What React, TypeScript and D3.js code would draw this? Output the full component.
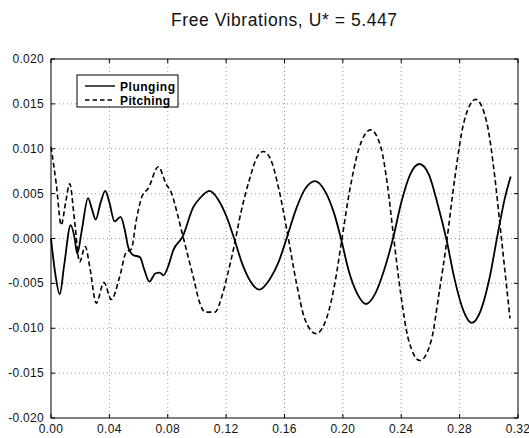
import React from "react";
import * as d3 from "d3";

const title = "Free Vibrations, U* = 5.447";
const xTicks = [0, 0.04, 0.08, 0.12, 0.16, 0.2, 0.24, 0.28, 0.32];
const xTickLabels = ["0.00", "0.04", "0.08", "0.12", "0.16", "0.20", "0.24", "0.28", "0.32"];
const yTicks = [0.02, 0.015, 0.01, 0.005, 0, -0.005, -0.01, -0.015, -0.02];
const yTickLabels = ["0.020", "0.015", "0.010", "0.005", "0.000", "-0.005", "-0.010", "-0.015", "-0.020"];
const seriesNames = ["Plunging", "Pitching"];

const plunging: [number, number][] = [
  [0.0, 0.0], [0.003, -0.004], [0.006, -0.0062], [0.009, -0.003], [0.0135, 0.0015],
  [0.016, 0.0002], [0.018, -0.0017], [0.021, 0.0008], [0.0254, 0.0045], [0.028, 0.0033],
  [0.0306, 0.0021], [0.034, 0.004], [0.0372, 0.0053], [0.04, 0.004], [0.0436, 0.0019],
  [0.0477, 0.0024], [0.0505, 0.001], [0.0528, -0.0009], [0.056, -0.0018], [0.061, -0.0021],
  [0.064, -0.0035], [0.0674, -0.0048], [0.0715, -0.0039], [0.0745, -0.0038], [0.077, -0.0041],
  [0.0805, -0.003], [0.0838, -0.0013], [0.0902, 0.0002], [0.0975, 0.0035], [0.1021, 0.0045],
  [0.1085, 0.0053], [0.1147, 0.0043], [0.1204, 0.0024], [0.1255, 0.0], [0.131, -0.0028],
  [0.1364, -0.0047], [0.1427, -0.0057], [0.15, -0.0045], [0.156, -0.0026], [0.162, 0.0003],
  [0.168, 0.0033], [0.174, 0.0055], [0.181, 0.0064], [0.188, 0.0052], [0.194, 0.0028],
  [0.199, -0.0002], [0.204, -0.0036], [0.21, -0.0062], [0.2158, -0.0073], [0.222, -0.0062],
  [0.2285, -0.0034], [0.2345, 0.0001], [0.24, 0.004], [0.246, 0.0071], [0.2524, 0.0083],
  [0.259, 0.0071], [0.265, 0.0038], [0.2711, -0.0002], [0.2765, -0.0045], [0.2825, -0.008],
  [0.2883, -0.0094], [0.2945, -0.008], [0.3005, -0.0044], [0.306, 0.0004], [0.311, 0.0045],
  [0.315, 0.0069],
];

const pitching: [number, number][] = [
  [0.0, 0.0102], [0.0036, 0.0061], [0.007, 0.0015], [0.01, 0.004], [0.0128, 0.0061],
  [0.0162, 0.0019], [0.0196, -0.0026], [0.0235, -0.0009], [0.0265, -0.0031], [0.031, -0.0072],
  [0.0363, -0.0049], [0.0413, -0.0068], [0.047, -0.0043], [0.0516, -0.0015], [0.055, -0.0012],
  [0.0585, 0.0021], [0.0624, 0.0047], [0.0667, 0.0056], [0.0735, 0.008], [0.0788, 0.0061],
  [0.0827, 0.005], [0.0865, 0.0028], [0.0902, 0.0004], [0.0975, -0.0043], [0.102, -0.0072],
  [0.1055, -0.0082], [0.1124, -0.0082], [0.117, -0.0065], [0.121, -0.004], [0.1249, -0.0013],
  [0.13, 0.0028], [0.1364, 0.0068], [0.141, 0.009], [0.1455, 0.0097], [0.15, 0.009],
  [0.156, 0.0056], [0.162, 0.0006], [0.168, -0.0048], [0.174, -0.009], [0.1816, -0.0106],
  [0.189, -0.0088], [0.1945, -0.005], [0.1992, -0.0002], [0.2045, 0.0052], [0.211, 0.01],
  [0.219, 0.0121], [0.226, 0.0102], [0.2305, 0.006], [0.2346, 0.0004], [0.2395, -0.006],
  [0.245, -0.0113], [0.2528, -0.0136], [0.2605, -0.0114], [0.266, -0.006], [0.2711, -0.0004],
  [0.2765, 0.0065], [0.283, 0.013], [0.291, 0.0155], [0.2985, 0.013], [0.304, 0.007],
  [0.308, 0.001], [0.3145, -0.0089],
];

const W = 529;
const H = 438;
const M = { left: 51, right: 11, top: 59, bottom: 20 };

export default function App() {
  const x = d3.scaleLinear().domain([0, 0.32]).range([M.left, W - M.right]);
  const y = d3.scaleLinear().domain([-0.02, 0.02]).range([H - M.bottom, M.top]);
  const line = d3
    .line<[number, number]>()
    .x((d) => x(d[0]))
    .y((d) => y(d[1]))
    .curve(d3.curveMonotoneX);
  const font = "'Liberation Sans', Arial, Helvetica, sans-serif";
  const x0 = x(0), x1 = x(0.32), y0 = y(-0.02), y1 = y(0.02);
  return (
    <svg
      width={W}
      height={H}
      style={{ position: "absolute", left: 0, top: 0, background: "#fff" }}
      fontFamily={font}
    >
      <rect x={0} y={0} width={W} height={H} fill="#fff" />
      <text x={284} y={25.5} textAnchor="middle" fontSize={17.5} fill="#111" textLength={226} lengthAdjust="spacing">
        {title}
      </text>
      {/* grid */}
      {xTicks.slice(1, -1).map((t) => (
        <line key={"gx" + t} x1={x(t)} x2={x(t)} y1={y1} y2={y0} stroke="#999" strokeWidth={1} strokeDasharray="1,3" />
      ))}
      {yTicks.slice(1, -1).map((t) => (
        <line key={"gy" + t} x1={x0} x2={x1} y1={y(t)} y2={y(t)} stroke="#999" strokeWidth={1} strokeDasharray="1,3" />
      ))}
      {/* ticks */}
      {xTicks.map((t) => (
        <g key={"tx" + t}>
          <line x1={x(t)} x2={x(t)} y1={y0} y2={y0 - 4} stroke="#000" />
          <line x1={x(t)} x2={x(t)} y1={y1} y2={y1 + 4} stroke="#000" />
        </g>
      ))}
      {yTicks.map((t) => (
        <g key={"ty" + t}>
          <line x1={x0} x2={x0 + 4} y1={y(t)} y2={y(t)} stroke="#000" />
          <line x1={x1} x2={x1 - 4} y1={y(t)} y2={y(t)} stroke="#000" />
        </g>
      ))}
      {/* frame */}
      <rect x={x0} y={y1} width={x1 - x0} height={y0 - y1} fill="none" stroke="#000" strokeWidth={1} />
      {/* tick labels */}
      {xTicks.map((t, i) => (
        <text key={"lx" + t} x={x(t)} y={y0 + 15} textAnchor="middle" fontSize={12} letterSpacing={0.3} fill="#111">
          {xTickLabels[i]}
        </text>
      ))}
      {yTicks.map((t, i) => (
        <text key={"ly" + t} x={x0 - 7} y={y(t) + 4} textAnchor="end" fontSize={12} letterSpacing={0.3} fill="#111">
          {yTickLabels[i]}
        </text>
      ))}
      {/* series */}
      <path d={line(plunging) || ""} fill="none" stroke="#000" strokeWidth={1.8} />
      <path d={line(pitching) || ""} fill="none" stroke="#000" strokeWidth={1.6} strokeDasharray="5,3" />
      {/* legend */}
      <rect x={77} y={75} width={101} height={32} fill="#fff" stroke="#000" strokeWidth={1} />
      <line x1={85} x2={115} y1={86} y2={86} stroke="#000" strokeWidth={1.4} />
      <line x1={85} x2={115} y1={100} y2={100} stroke="#000" strokeWidth={1.4} strokeDasharray="4.5,3" />
      <text x={120} y={90.5} fontSize={12} fontWeight="bold" fill="#000" textLength={55} lengthAdjust="spacing">
        {seriesNames[0]}
      </text>
      <text x={120} y={104.5} fontSize={12} fontWeight="bold" fill="#000" textLength={50} lengthAdjust="spacing">
        {seriesNames[1]}
      </text>
    </svg>
  );
}
